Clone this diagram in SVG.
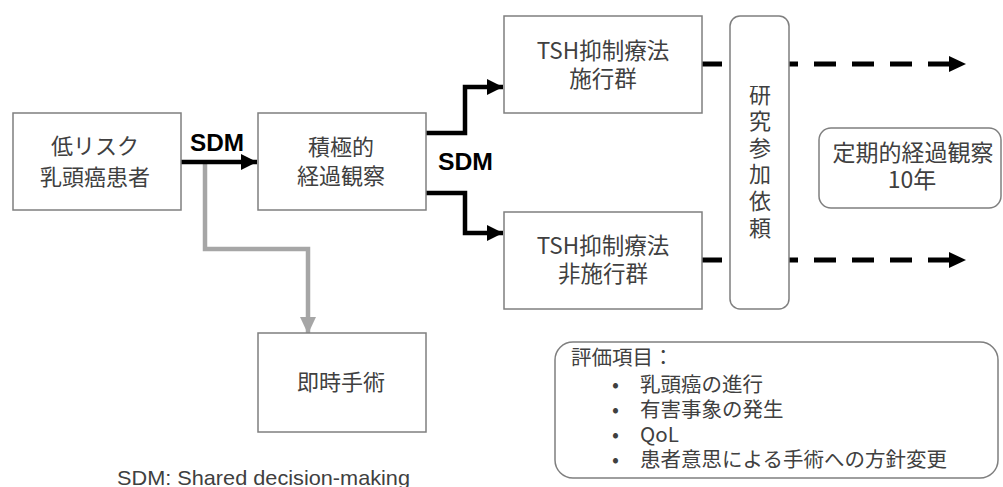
<svg xmlns="http://www.w3.org/2000/svg" width="1003" height="487" viewBox="0 0 1003 487">
<style>
.box{fill:#fff;stroke:#7f7f7f;stroke-width:1.5}
.t{font-family:"Noto Sans CJK JP","Noto Sans",sans-serif;font-size:22px;fill:#404040;text-anchor:middle}
.e{font-family:"Noto Sans CJK JP","Noto Sans",sans-serif;font-size:20.5px;fill:#404040}
.sdm{font-family:"Liberation Sans",Arial,sans-serif;font-weight:bold;font-size:23px;fill:#000}
.blk{fill:none;stroke:#000;stroke-width:4.5}
.gry{fill:none;stroke:#a6a6a6;stroke-width:4.5}
.dash{fill:none;stroke:#000;stroke-width:5;stroke-dasharray:22 16;stroke-dashoffset:2}
</style>
<defs>
<marker id="ab" markerUnits="userSpaceOnUse" markerWidth="16" markerHeight="16" refX="16" refY="8" orient="auto" viewBox="0 0 16 16"><path d="M0,0 L16,8 L0,16 Z" fill="#000"/></marker>
<marker id="ad" markerUnits="userSpaceOnUse" markerWidth="17" markerHeight="16" refX="1" refY="8" orient="auto" viewBox="0 0 17 16"><path d="M0,0 L17,8 L0,16 Z" fill="#000"/></marker>
<marker id="ag" markerUnits="userSpaceOnUse" markerWidth="17" markerHeight="16" refX="16" refY="8" orient="auto" viewBox="0 0 17 16"><path d="M0,0 L17,8 L0,16 Z" fill="#a6a6a6"/></marker>
</defs>
<g id="connectors">
<path class="gry" d="M205,163 V249 H308 V333" marker-end="url(#ag)"/>
<path class="blk" d="M181,162 H257" marker-end="url(#ab)"/>
<path class="blk" d="M426,133 H465 V87 H503" marker-end="url(#ab)"/>
<path class="blk" d="M426,193 H465 V233 H503" marker-end="url(#ab)"/>
<path class="dash" d="M702,64 H950" marker-end="url(#ad)"/>
<path class="dash" d="M702,260 H950" marker-end="url(#ad)"/>
</g>
<text class="sdm" x="190" y="151" textLength="54" lengthAdjust="spacingAndGlyphs">SDM</text>
<text class="sdm" x="438" y="170" textLength="55" lengthAdjust="spacingAndGlyphs">SDM</text>
<g id="n1"><rect class="box" x="13" y="113" width="168" height="97"/><text class="t"><tspan x="95" y="154">低リスク</tspan><tspan x="95" y="185">乳頭癌患者</tspan></text></g>
<g id="n2"><rect class="box" x="258" y="113" width="168" height="97"/><text class="t"><tspan x="341" y="155">積極的</tspan><tspan x="341" y="184">経過観察</tspan></text></g>
<g id="n3"><rect class="box" x="258" y="333" width="168" height="99"/><text class="t" x="341" y="390">即時手術</text></g>
<g id="n4"><rect class="box" x="504" y="16" width="198" height="97"/><text class="t" style="font-size:22.5px"><tspan x="603" y="59">TSH抑制療法</tspan><tspan x="603" y="87">施行群</tspan></text></g>
<g id="n5"><rect class="box" x="504" y="212" width="198" height="97"/><text class="t" style="font-size:22.5px"><tspan x="603" y="254">TSH抑制療法</tspan><tspan x="603" y="282">非施行群</tspan></text></g>
<g id="n6"><rect class="box" x="730" y="16" width="59" height="293" rx="10"/>
<text class="t" x="760" y="163" writing-mode="vertical-rl" style="letter-spacing:4.6px">研究参加依頼</text></g>
<g id="n7"><rect class="box" x="819" y="128" width="182" height="80" rx="12"/><text class="t" style="font-size:23px"><tspan x="913" y="161">定期的経過観察</tspan><tspan x="912" y="188">10年</tspan></text></g>
<g id="n8"><rect class="box" x="555" y="342" width="443" height="136" rx="18"/>
<text class="e"><tspan x="571" y="365">評価項目：</tspan><tspan x="612" y="392">•</tspan><tspan x="640" y="392">乳頭癌の進行</tspan><tspan x="612" y="417">•</tspan><tspan x="640" y="417">有害事象の発生</tspan><tspan x="612" y="442">•</tspan><tspan x="640" y="442">QoL</tspan><tspan x="612" y="467">•</tspan><tspan x="640" y="467">患者意思による手術への方針変更</tspan></text>
</g>
<text x="117" y="485" font-family="Liberation Sans, Arial, sans-serif" font-size="21" fill="#404040" textLength="293" lengthAdjust="spacingAndGlyphs">SDM: Shared decision-making</text>
</svg>
